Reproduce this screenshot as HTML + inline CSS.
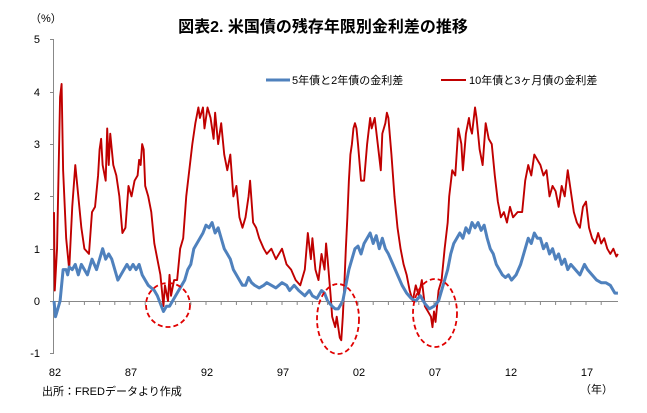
<!DOCTYPE html>
<html><head><meta charset="utf-8"><style>
body{margin:0;background:#fff;}
svg text{font-family:"Liberation Sans","Noto Sans CJK JP",sans-serif;fill:#000;}
</style></head><body>
<svg width="647" height="408" viewBox="0 0 647 408" xmlns="http://www.w3.org/2000/svg">
<rect width="647" height="408" fill="#fff"/>
<text x="323" y="32" font-size="16" font-weight="bold" text-anchor="middle">図表2. 米国債の残存年限別金利差の推移</text>
<text x="30" y="22" font-size="11">（%）</text>
<g font-size="11" text-anchor="end">
<text x="40" y="43">5</text><text x="40" y="96">4</text><text x="40" y="148">3</text>
<text x="40" y="200">2</text><text x="40" y="253">1</text><text x="40" y="305">0</text><text x="40" y="357">-1</text>
</g>
<line x1="53.5" y1="39" x2="53.5" y2="353" stroke="#888"/>
<g stroke="#888">
<line x1="50" y1="39.5" x2="54" y2="39.5"/><line x1="50" y1="92.5" x2="54" y2="92.5"/><line x1="50" y1="144.5" x2="54" y2="144.5"/>
<line x1="50" y1="196.5" x2="54" y2="196.5"/><line x1="50" y1="249.5" x2="54" y2="249.5"/><line x1="50" y1="301.5" x2="54" y2="301.5"/><line x1="50" y1="353.5" x2="54" y2="353.5"/>
<line x1="54" y1="301.5" x2="618" y2="301.5"/>
</g>
<g font-size="11" text-anchor="middle">
<text x="55" y="376">82</text><text x="131" y="376">87</text><text x="207" y="376">92</text><text x="283" y="376">97</text>
<text x="359" y="376">02</text><text x="435" y="376">07</text><text x="511" y="376">12</text><text x="587" y="376">17</text>
</g>
<text x="42" y="395" font-size="11">出所：FREDデータより作成</text>
<text x="580" y="393" font-size="11">（年）</text>
<line x1="266" y1="80" x2="290" y2="80" stroke="#4f81bd" stroke-width="3"/>
<text x="292" y="84" font-size="11">5年債と2年債の金利差</text>
<line x1="441" y1="80" x2="466" y2="80" stroke="#c00000" stroke-width="2"/>
<text x="469" y="84" font-size="11">10年債と3ヶ月債の金利差</text>
<g transform="translate(54,301) scale(15.2,-52.3)">
<polyline fill="none" stroke="#c00000" stroke-width="1.9" vector-effect="non-scaling-stroke" stroke-linejoin="round" points="0,1.7 0.05,0.2 0.2,1.0 0.4,3.9 0.5,4.15 0.6,2.5 0.8,1.2 1.0,0.6 1.2,1.8 1.4,2.6 1.6,2.0 1.8,1.4 2.0,1.0 2.3,0.9 2.5,1.7 2.7,1.8 2.9,2.4 3.0,2.9 3.1,3.1 3.2,2.6 3.4,2.3 3.5,3.3 3.6,2.6 3.7,3.2 3.9,2.6 4.1,2.4 4.3,2.0 4.5,1.3 4.7,1.4 4.9,2.2 5.1,2.0 5.3,2.3 5.5,2.4 5.6,2.7 5.7,2.6 5.8,3.0 5.9,2.9 6.0,2.2 6.2,2.0 6.4,1.7 6.6,1.1 6.8,0.8 7.0,0.5 7.1,0.2 7.2,-0.1 7.3,0.3 7.5,0.0 7.6,0.5 7.7,0.1 7.9,0.4 8.1,0.4 8.3,1.0 8.5,1.2 8.7,2.0 8.9,2.5 9.1,3.0 9.3,3.4 9.5,3.7 9.6,3.5 9.8,3.7 9.9,3.3 10.1,3.7 10.3,3.5 10.5,3.1 10.6,3.6 10.8,3.0 11.0,3.4 11.2,2.8 11.4,2.5 11.6,2.8 11.8,2.0 12.0,2.2 12.2,1.6 12.4,1.4 12.6,1.6 12.8,2.0 12.9,2.3 13.1,1.5 13.3,1.4 13.5,1.2 13.8,1.0 14.0,0.9 14.3,1.0 14.6,0.8 15.0,1.0 15.3,0.7 15.6,0.6 15.9,0.4 16.2,0.3 16.5,0.6 16.7,1.3 16.9,0.8 17.0,1.2 17.2,0.6 17.4,0.4 17.6,0.9 17.8,0.6 17.9,1.1 18.0,0.8 18.2,0.1 18.3,-0.3 18.5,-0.5 18.6,-0.3 18.8,-0.7 18.9,-0.75 19.0,-0.3 19.1,0.3 19.2,1.0 19.3,1.6 19.4,2.3 19.5,2.8 19.6,3.0 19.7,3.3 19.8,3.4 19.9,3.3 20.0,3.0 20.2,2.3 20.4,2.3 20.6,3.0 20.8,3.5 20.9,3.3 21.1,3.5 21.3,3.0 21.5,2.5 21.6,3.2 21.8,3.4 21.9,3.6 22.0,3.5 22.2,2.8 22.4,2.0 22.6,1.4 22.8,1.0 23.0,0.7 23.2,0.5 23.4,0.2 23.6,0.0 23.8,0.3 24.0,0.1 24.2,0.4 24.4,-0.1 24.6,-0.2 24.8,-0.3 24.9,-0.5 25.0,-0.2 25.1,-0.4 25.3,0.2 25.5,0.4 25.7,1.0 25.9,1.5 26.0,2.0 26.2,2.5 26.4,2.4 26.6,3.3 26.8,3.0 26.9,2.5 27.1,3.2 27.3,3.5 27.4,3.3 27.5,3.2 27.7,3.7 27.8,3.5 28.0,2.9 28.2,2.6 28.4,3.4 28.6,3.1 28.8,3.0 29.0,2.4 29.2,1.9 29.4,1.6 29.6,1.7 29.8,1.5 30.0,1.8 30.2,1.6 30.5,1.7 30.8,1.7 31.0,2.3 31.2,2.6 31.4,2.4 31.6,2.8 31.8,2.7 32.0,2.6 32.2,2.4 32.4,2.5 32.6,2.0 32.8,2.2 33.0,2.1 33.2,1.8 33.4,2.2 33.6,2.0 33.8,2.5 34.0,2.1 34.2,1.7 34.4,1.5 34.6,1.4 34.8,1.8 35.0,1.9 35.2,1.4 35.4,1.2 35.6,1.1 35.8,1.3 36.0,1.1 36.2,1.2 36.4,1.0 36.6,0.9 36.8,1.0 37.0,0.85 37.1,0.9"/>
<polyline fill="none" stroke="#4f81bd" stroke-width="3" vector-effect="non-scaling-stroke" stroke-linejoin="round" points="0,0.0 0.1,-0.3 0.2,-0.2 0.4,0.0 0.5,0.3 0.6,0.6 0.8,0.6 0.9,0.5 1.0,0.65 1.2,0.6 1.4,0.7 1.6,0.5 1.8,0.7 2.0,0.6 2.2,0.5 2.3,0.6 2.5,0.8 2.8,0.6 3.0,0.8 3.2,1.0 3.4,0.8 3.6,0.9 3.8,0.8 4.0,0.6 4.2,0.4 4.4,0.5 4.6,0.6 4.8,0.7 5.0,0.6 5.2,0.7 5.4,0.6 5.6,0.7 5.8,0.5 6.0,0.4 6.2,0.3 6.4,0.25 6.6,0.2 6.8,0.1 7.0,-0.05 7.2,-0.2 7.4,-0.1 7.6,-0.1 7.8,0.0 8.0,0.1 8.2,0.2 8.4,0.3 8.6,0.4 8.8,0.6 9.0,0.7 9.2,1.0 9.4,1.1 9.6,1.2 9.8,1.3 10.0,1.45 10.2,1.4 10.4,1.5 10.6,1.3 10.8,1.4 11.0,1.2 11.2,1.0 11.4,0.9 11.6,0.8 11.8,0.6 12.0,0.5 12.2,0.4 12.4,0.3 12.6,0.3 12.8,0.45 13.0,0.35 13.2,0.3 13.5,0.25 13.8,0.3 14.0,0.35 14.3,0.3 14.6,0.25 15.0,0.35 15.3,0.3 15.5,0.2 15.8,0.3 16.1,0.2 16.3,0.15 16.5,0.1 16.8,0.2 17.0,0.1 17.3,0.05 17.6,0.2 17.8,0.15 18.0,0.0 18.3,-0.1 18.5,-0.15 18.7,-0.15 19.0,0.0 19.2,0.3 19.4,0.6 19.6,0.8 19.8,1.0 20.0,1.05 20.2,0.9 20.4,1.1 20.6,1.2 20.8,1.3 21.0,1.1 21.2,1.25 21.4,1.0 21.6,1.2 21.8,1.0 22.0,0.9 22.3,0.7 22.6,0.5 22.9,0.3 23.2,0.15 23.5,0.05 23.8,0.0 24.1,0.1 24.4,-0.05 24.7,-0.15 25.0,-0.1 25.3,0.0 25.6,0.3 25.9,0.6 26.1,0.9 26.3,1.1 26.5,1.2 26.7,1.3 26.9,1.2 27.1,1.4 27.3,1.3 27.5,1.5 27.7,1.4 27.9,1.5 28.1,1.35 28.3,1.45 28.5,1.2 28.7,1.0 28.9,0.9 29.1,0.7 29.3,0.6 29.5,0.5 29.7,0.45 29.9,0.5 30.1,0.4 30.4,0.5 30.7,0.7 31.0,1.0 31.2,1.2 31.4,1.1 31.6,1.3 31.8,1.2 32.0,1.2 32.2,1.0 32.4,1.1 32.6,0.9 32.8,1.0 33.0,0.8 33.2,0.9 33.4,0.7 33.6,0.8 33.8,0.6 34.0,0.7 34.3,0.6 34.6,0.5 34.9,0.7 35.1,0.6 35.4,0.5 35.7,0.4 36.0,0.35 36.3,0.35 36.6,0.3 36.9,0.15 37.1,0.15"/>
</g>
<g fill="none" stroke="#e00000" stroke-width="1.8" stroke-dasharray="5,3">
<ellipse cx="168" cy="305" rx="22" ry="22"/>
<ellipse cx="338" cy="319" rx="21" ry="35"/>
<ellipse cx="435" cy="313" rx="22" ry="34"/>
</g>
<g stroke="#888">
<path d="M69.2 301v4M84.4 301v4M99.6 301v4M114.8 301v4M130 301v4M145.2 301v4M160.4 301v4M175.6 301v4M190.8 301v4M206 301v4M221.2 301v4M236.4 301v4M251.6 301v4M266.8 301v4M282 301v4M297.2 301v4M312.4 301v4M327.6 301v4M342.8 301v4M358 301v4M373.2 301v4M388.4 301v4M403.6 301v4M418.8 301v4M434 301v4M449.2 301v4M464.4 301v4M479.6 301v4M494.8 301v4M510 301v4M525.2 301v4M540.4 301v4M555.6 301v4M570.8 301v4M586 301v4M601.2 301v4"/>
</g>
</svg>
</body></html>
